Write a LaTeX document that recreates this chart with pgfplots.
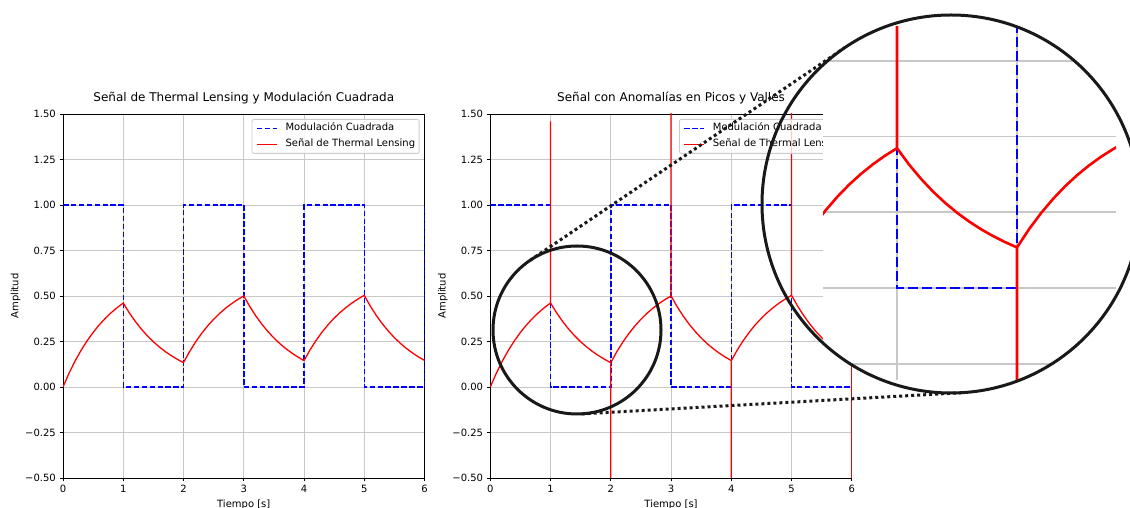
\documentclass[border=0pt]{standalone}
\usepackage{fontspec}
\setmainfont{DejaVu Sans}
\usepackage{pgfplots}
\usepackage{pgfplotstable}
\pgfplotsset{compat=1.18}

\definecolor{sqblue}{RGB}{0,0,255}
\definecolor{tlred}{RGB}{255,0,0}
\definecolor{gridgray}{RGB}{200,200,200}

% thermal lensing response (rise while the modulation is on, decay while off)
\pgfplotstableread{
t y
0.0 0.0000
0.1 0.0757
0.2 0.1425
0.3 0.2016
0.4 0.2538
0.5 0.2999
0.6 0.3407
0.7 0.3767
0.8 0.4085
0.9 0.4366
1.0 0.4614
1.1 0.4077
1.2 0.3603
1.3 0.3183
1.4 0.2813
1.5 0.2485
1.6 0.2196
1.7 0.1940
1.8 0.1715
1.9 0.1515
2.0 0.1339
2.1 0.1940
2.2 0.2470
2.3 0.2939
2.4 0.3354
2.5 0.3720
2.6 0.4044
2.7 0.4330
2.8 0.4582
2.9 0.4806
3.0 0.5003
3.1 0.4421
3.2 0.3906
3.3 0.3452
3.4 0.3050
3.5 0.2695
3.6 0.2381
3.7 0.2104
3.8 0.1859
3.9 0.1643
4.0 0.1451
4.1 0.2039
4.2 0.2558
4.3 0.3017
4.4 0.3422
4.5 0.3781
4.6 0.4097
4.7 0.4377
4.8 0.4624
4.9 0.4842
5.0 0.5035
5.1 0.4449
5.2 0.3931
5.3 0.3474
5.4 0.3069
5.5 0.2712
5.6 0.2396
5.7 0.2117
5.8 0.1871
5.9 0.1653
6.0 0.1461
}\signal

% same response with single-sample anomalies at every peak and valley
\pgfplotstableread{
t y
0.0 0.0000
0.1 0.0757
0.2 0.1425
0.3 0.2016
0.4 0.2538
0.5 0.2999
0.6 0.3407
0.7 0.3767
0.8 0.4085
0.9 0.4366
1.0 0.4614
1.0 1.4600
1.0 0.4614
1.1 0.4077
1.2 0.3603
1.3 0.3183
1.4 0.2813
1.5 0.2485
1.6 0.2196
1.7 0.1940
1.8 0.1715
1.9 0.1515
2.0 0.1339
2.0 -0.6200
2.0 0.1339
2.1 0.1940
2.2 0.2470
2.3 0.2939
2.4 0.3354
2.5 0.3720
2.6 0.4044
2.7 0.4330
2.8 0.4582
2.9 0.4806
3.0 0.5003
3.0 1.5800
3.0 0.5003
3.1 0.4421
3.2 0.3906
3.3 0.3452
3.4 0.3050
3.5 0.2695
3.6 0.2381
3.7 0.2104
3.8 0.1859
3.9 0.1643
4.0 0.1451
4.0 -0.6200
4.0 0.1451
4.1 0.2039
4.2 0.2558
4.3 0.3017
4.4 0.3422
4.5 0.3781
4.6 0.4097
4.7 0.4377
4.8 0.4624
4.9 0.4842
5.0 0.5035
5.0 1.5500
5.0 0.5035
5.1 0.4449
5.2 0.3931
5.3 0.3474
5.4 0.3069
5.5 0.2712
5.6 0.2396
5.7 0.2117
5.8 0.1871
5.9 0.1653
6.0 0.1461
6.0 -0.6200
}\anomaly

% square modulation
\pgfplotstableread{
t y
0 1
1 1
1 0
2 0
2 1
3 1
3 0
4 0
4 1
5 1
5 0
6 0
6 1
}\sqwave

\pgfplotsset{
  panel/.style={
    scale only axis, width=361.5pt, height=364pt,
    xmin=0, xmax=6, ymin=-0.5, ymax=1.5,
    xtick={0,1,2,3,4,5,6}, xticklabels={0,1,2,3,4,5,6},
    ytick={-0.5,-0.25,0,0.25,0.5,0.75,1,1.25,1.5},
    yticklabels={−0.50,−0.25,0.00,0.25,0.50,0.75,1.00,1.25,1.50},
    grid=major, grid style={gridgray, line width=0.8pt},
    axis line style={black, line width=0.8pt},
    tick align=outside, major tick length=3.5pt,
    tick style={black, line width=0.8pt},
    xtick pos=bottom, ytick pos=left,
    tick label style={font=\fontsize{10}{12}\selectfont, inner sep=0pt},
    xticklabel style={anchor=north, yshift=-3.5pt},
    yticklabel style={anchor=east, xshift=-3.5pt},
    label style={font=\fontsize{10}{12}\selectfont},
    xlabel={Tiempo [s]}, ylabel={Amplitud},
    xlabel style={at={(axis description cs:0.5,0)}, anchor=base, yshift=-29.5pt, inner sep=0pt},
    ylabel style={at={(axis description cs:-0.1314,0.5)}, anchor=center, inner sep=0pt},
    title style={font=\fontsize{12}{14}\selectfont, at={(axis description cs:0.5,1)},
      anchor=base, yshift=6.5pt, inner sep=0pt},
    legend cell align=left,
    legend style={at={(axis description cs:1,1)}, anchor=north east,
      xshift=-5pt, yshift=-5pt, draw=black!20, line width=0.8pt, rounded corners=2pt,
      fill=white, fill opacity=0.8, text opacity=1,
      inner xsep=4pt, inner ysep=2pt, font=\fontsize{10}{12}\selectfont,
      nodes={inner xsep=0pt, inner ysep=2pt, text height=7.5pt, text depth=2.5pt},
      row sep=2pt, /tikz/every odd column/.append style={column sep=8pt}},
    legend image code/.code={\draw[#1] (0pt,0pt) -- (20pt,0pt);},
  },
  sqline/.style={sqblue, line width=1.5pt, dash pattern=on 5.5pt off 2.4pt},
  tlline/.style={tlred, line width=1.3pt},
}

\begin{document}
\begin{tikzpicture}
\path[use as bounding box] (0pt,0pt) rectangle (1130pt,508pt);
\clip (0pt,0pt) rectangle (1130pt,508pt);

% left panel
\begin{axis}[panel, at={(63pt,30pt)}, anchor=south west,
  title={Señal de Thermal Lensing y Modulación Cuadrada}]
\addplot[sqline] table {\sqwave};
\addlegendentry{Modulación Cuadrada}
\addplot[tlline] table {\signal};
\addlegendentry{Señal de Thermal Lensing}
\end{axis}

% right panel
\begin{axis}[panel, at={(490.3pt,30pt)}, anchor=south west,
  title={Señal con Anomalías en Picos y Valles}]
\addplot[sqline] table {\sqwave};
\addlegendentry{Modulación Cuadrada}
\addplot[tlline] table {\anomaly};
\addlegendentry{Señal de Thermal Lensing}
\end{axis}

% connectors between the marked region and the enlarged view
\draw[black!90, line width=3pt, dash pattern=on 3pt off 3pt] (530.0pt,247.6pt) -- (845.2pt,460.6pt);
\draw[black!90, line width=3pt, dash pattern=on 3pt off 3pt] (581.7pt,94.1pt) -- (961.5pt,115.3pt);
\draw[black!90, line width=3pt] (577pt,178pt) circle (84pt);

% enlarged view
\begin{scope}
\clip (951pt,304pt) circle (189pt);
\fill[white] (823pt,128pt) rectangle (1116pt,481pt);
\begin{axis}[at={(823pt,128pt)}, anchor=south west, scale only axis,
  width=293pt, height=353pt,
  xmin=0.3833, xmax=2.825, ymin=-0.3036, ymax=0.8614,
  xtick={0,1,2,3,4,5,6}, ytick={-0.25,0,0.25,0.5,0.75},
  xticklabels={,,,,,,}, yticklabels={,,,,},
  ticklabel style={text opacity=0},
  grid=major, grid style={gridgray, line width=1.6pt},
  axis line style={draw=none}, major tick length=0pt, tick style={draw=none}]
\addplot[sqblue, line width=2.6pt, dash pattern=on 10pt off 4pt] table {\sqwave};
\addplot[tlred, line width=2.6pt] table {\anomaly};
\end{axis}
\end{scope}
\draw[black!90, line width=3pt] (951pt,304pt) circle (189pt);
\end{tikzpicture}
\end{document}
